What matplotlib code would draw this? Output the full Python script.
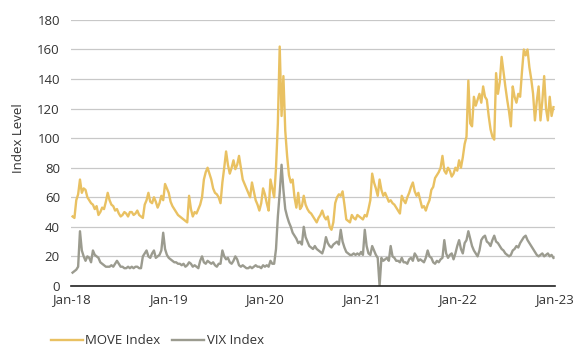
import matplotlib
matplotlib.use('Agg')
import matplotlib.pyplot as plt
import pandas as pd

# weekly readings (Fridays)
dates = pd.date_range('2018-01-05', '2022-12-30', freq='W-FRI')

move_2018 = [47, 46, 58, 62, 72, 63, 66, 65, 60, 58, 56, 55, 52, 54, 48, 50, 53, 52, 57, 63,
             58, 55, 54, 51, 52, 49, 47, 48, 50, 49, 47, 50, 50, 48, 49, 51, 48, 47, 46, 55,
             58, 63, 57, 56, 60, 57, 53, 56, 61, 58, 69, 66]
move_2019 = [63, 57, 54, 52, 50, 48, 47, 46, 45, 44, 43, 61, 52, 47, 50, 49, 52, 55, 60, 72,
             77, 80, 76, 72, 66, 63, 62, 60, 56, 70, 80, 91, 82, 76, 80, 85, 79, 82, 88, 80,
             72, 69, 66, 63, 60, 70, 64, 58, 55, 51, 56, 66]
move_2020 = [62, 56, 51, 72, 66, 60, 80, 110, 162, 115, 142, 105, 88, 75, 70, 72, 60, 53, 63, 52,
             54, 61, 55, 52, 50, 49, 47, 45, 43, 46, 48, 51, 47, 45, 47, 40, 38, 43, 56, 60,
             62, 61, 64, 55, 45, 44, 43, 48, 46, 45, 48, 47]
move_2021 = [46, 45, 48, 47, 52, 58, 76, 70, 66, 61, 72, 65, 61, 63, 60, 57, 58, 56, 55, 53,
             51, 49, 61, 58, 56, 60, 63, 67, 70, 64, 61, 63, 58, 53, 54, 51, 55, 58, 65, 67,
             73, 75, 77, 80, 88, 78, 76, 80, 78, 74, 76, 80, 78]
move_2022 = [85, 80, 87, 96, 101, 139, 110, 108, 128, 122, 126, 130, 124, 135, 128, 126, 115, 106, 101, 99,
             144, 130, 138, 155, 145, 135, 126, 118, 108, 135, 128, 124, 130, 128, 145, 160, 156, 160, 148, 140,
             130, 112, 125, 135, 112, 125, 142, 120, 112, 128, 115, 121]

vix_2018 = [9, 10, 11, 13, 37, 24, 20, 17, 20, 19, 16, 24, 21, 20, 19, 16, 15, 14, 13, 13,
            13, 14, 13, 15, 17, 15, 13, 13, 12, 12, 13, 12, 13, 12, 13, 13, 12, 12, 20, 22,
            24, 20, 19, 22, 24, 19, 20, 21, 24, 36, 25, 21]
vix_2019 = [19, 18, 17, 16, 16, 15, 15, 14, 15, 13, 14, 16, 15, 13, 14, 13, 12, 17, 20, 16,
            15, 17, 16, 15, 16, 14, 13, 15, 15, 24, 20, 18, 19, 16, 15, 17, 20, 18, 14, 13,
            14, 13, 12, 12, 13, 12, 13, 14, 13, 13, 12, 14]
vix_2020 = [13, 14, 13, 17, 15, 15, 25, 47, 63, 82, 65, 52, 47, 43, 40, 36, 34, 32, 29, 30,
            28, 40, 33, 30, 27, 26, 25, 27, 25, 24, 23, 22, 26, 33, 29, 27, 26, 28, 29, 30,
            28, 38, 30, 26, 23, 22, 21, 21, 22, 21, 22, 21]
vix_2021 = [23, 21, 38, 27, 22, 21, 27, 24, 21, 19, 0, 19, 17, 18, 19, 17, 27, 20, 19, 17,
            17, 16, 19, 16, 16, 15, 18, 19, 17, 22, 20, 17, 18, 17, 16, 19, 24, 20, 19, 16,
            15, 17, 16, 18, 19, 31, 22, 19, 21, 22, 18, 22, 27]
vix_2022 = [31, 25, 22, 29, 31, 37, 32, 27, 24, 22, 20, 24, 31, 33, 34, 30, 29, 27, 31, 34,
            30, 29, 27, 25, 24, 22, 21, 20, 21, 24, 25, 27, 26, 29, 31, 33, 34, 31, 29, 27,
            25, 23, 21, 20, 21, 22, 20, 21, 22, 20, 21, 19]

move = move_2018 + move_2019 + move_2020 + move_2021 + move_2022
vix = vix_2018 + vix_2019 + vix_2020 + vix_2021 + vix_2022

series_names = ['MOVE Index', 'VIX Index']
xtick_dates = pd.to_datetime(['2018-01-01', '2019-01-01', '2020-01-01',
                              '2021-01-01', '2022-01-01', '2023-01-01'])
xtick_labels = ['Jan-18', 'Jan-19', 'Jan-20', 'Jan-21', 'Jan-22', 'Jan-23']

plt.rcParams['font.family'] = ['Open Sans', 'DejaVu Sans']

fig = plt.figure(figsize=(5.8, 3.53), dpi=100)
ax = fig.add_axes([0.1224, 0.19, 0.8345, 0.7535])

ax.plot(dates, move, color='#E9C162', lw=1.7, label=series_names[0])
ax.plot(dates, vix, color='#9B9B8F', lw=1.7, label=series_names[1])

ax.set_ylim(0, 180)
ax.set_yticks(range(0, 181, 20))
ax.set_xlim(pd.Timestamp('2017-12-30'), pd.Timestamp('2023-01-05'))
ax.set_xticks(xtick_dates)
ax.set_xticklabels(xtick_labels)

ax.yaxis.grid(True, color='#c8c8c8', lw=0.9)
ax.set_axisbelow(True)
for s in ['left', 'right', 'top']:
    ax.spines[s].set_visible(False)
ax.spines['bottom'].set_color('#222222')
ax.spines['bottom'].set_linewidth(1.2)

ax.tick_params(length=0, labelsize=9.5, colors='#333333')
ax.tick_params(axis='y', pad=8)
ax.tick_params(axis='x', pad=5)

ax.set_ylabel('Index Level', fontsize=9.5, color='#333333')
ax.yaxis.set_label_coords(-0.095, 0.555)

fig.legend(loc='center left', bbox_to_anchor=(0.088, 0.034), ncol=2, frameon=False,
           fontsize=9.5, handlelength=2.4, handletextpad=0.2, columnspacing=0.9,
           borderpad=0, borderaxespad=0, labelcolor='#333333')

fig.savefig('out.png', dpi=100)
